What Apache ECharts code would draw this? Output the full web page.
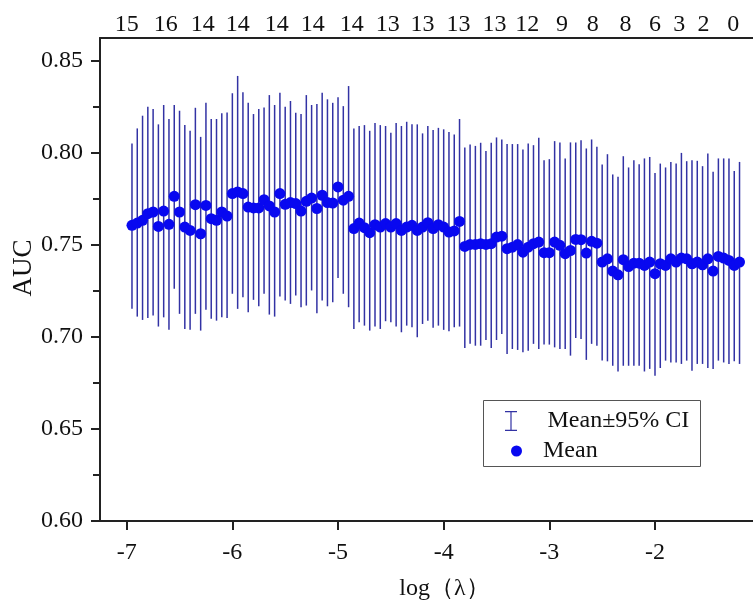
<!DOCTYPE html>
<html>
<head>
<meta charset="utf-8">
<script src="https://cdn.jsdelivr.net/npm/echarts@6/dist/echarts.min.js"></script>
<style>
html,body{margin:0;padding:0;background:#fff;}
#main{width:753px;height:601px;}
</style>
</head>
<body>
<div id="main"></div>
<script>
// log(lambda) positions of the 116 evaluated lambdas
var logLambda = [
-6.95,-6.9,-6.85,-6.8,-6.75,-6.7,-6.65,-6.6,-6.55,-6.5,-6.45,-6.4,-6.35,-6.3,-6.25,-6.2,-6.15,-6.1,-6.05,-6,
-5.95,-5.9,-5.85,-5.8,-5.75,-5.7,-5.65,-5.6,-5.55,-5.5,-5.45,-5.4,-5.35,-5.3,-5.25,-5.2,-5.15,-5.1,-5.05,-5,
-4.95,-4.9,-4.85,-4.8,-4.75,-4.7,-4.65,-4.6,-4.55,-4.5,-4.45,-4.4,-4.35,-4.3,-4.25,-4.2,-4.15,-4.1,-4.05,-4,
-3.95,-3.9,-3.85,-3.8,-3.75,-3.7,-3.65,-3.6,-3.55,-3.5,-3.45,-3.4,-3.35,-3.3,-3.25,-3.2,-3.15,-3.1,-3.05,-3,
-2.95,-2.9,-2.85,-2.8,-2.75,-2.7,-2.65,-2.6,-2.55,-2.5,-2.45,-2.4,-2.35,-2.3,-2.25,-2.2,-2.15,-2.1,-2.05,-2,
-1.95,-1.9,-1.85,-1.8,-1.75,-1.7,-1.65,-1.6,-1.55,-1.5,-1.45,-1.4,-1.35,-1.3,-1.25,-1.2
];
var meanAUC = [
0.7606,0.7618,0.7633,0.7669,0.7678,0.7600,0.7683,0.7611,0.7763,0.7678,
0.7596,0.7578,0.7718,0.7560,0.7714,0.7642,0.7633,0.7678,0.7656,0.7778,
0.7787,0.7778,0.7705,0.7700,0.7700,0.7745,0.7711,0.7678,0.7778,0.7720,
0.7729,0.7724,0.7683,0.7736,0.7754,0.7697,0.7769,0.7729,0.7727,0.7814,
0.7742,0.7763,0.7588,0.7618,0.7593,0.7566,0.7609,0.7596,0.7615,0.7596,
0.7615,0.7578,0.7596,0.7606,0.7578,0.7596,0.7620,0.7588,0.7609,0.7596,
0.7569,0.7575,0.7627,0.7491,0.7502,0.7502,0.7506,0.7502,0.7506,0.7542,
0.7547,0.7479,0.7487,0.7501,0.7460,0.7487,0.7506,0.7515,0.7457,0.7457,
0.7515,0.7497,0.7452,0.7469,0.7529,0.7528,0.7455,0.7519,0.7509,0.7406,
0.7424,0.7357,0.7337,0.7419,0.7382,0.7400,0.7400,0.7388,0.7406,0.7343,
0.7397,0.7388,0.7424,0.7406,0.7428,0.7424,0.7397,0.7406,0.7391,0.7424,
0.7357,0.7437,0.7428,0.7415,0.7388,0.7406
];
var lowerCI = [
0.7152,0.7110,0.7092,0.7103,0.7116,0.7056,0.7106,0.7038,0.7261,0.7125,
0.7043,0.7038,0.7125,0.7034,0.7147,0.7098,0.7088,0.7106,0.7103,0.7234,
0.7152,0.7215,0.7134,0.7201,0.7166,0.7234,0.7121,0.7110,0.7219,0.7197,
0.7179,0.7225,0.7161,0.7170,0.7252,0.7128,0.7197,0.7166,0.7188,0.7319,
0.7234,0.7161,0.7043,0.7079,0.7061,0.7034,0.7056,0.7043,0.7085,0.7079,
0.7056,0.7025,0.7061,0.7052,0.6998,0.7070,0.7088,0.7049,0.7061,0.7038,
0.7030,0.7052,0.7056,0.6940,0.6962,0.6952,0.6952,0.6983,0.6940,0.6983,
0.7016,0.6907,0.6934,0.6929,0.6916,0.6925,0.6962,0.6934,0.6958,0.6958,
0.6943,0.6934,0.6934,0.6898,0.6994,0.6989,0.6875,0.6962,0.6952,0.6871,
0.6867,0.6843,0.6812,0.6843,0.6843,0.6843,0.6843,0.6812,0.6826,0.6789,
0.6831,0.6871,0.6861,0.6861,0.6853,0.6871,0.6816,0.6853,0.6853,0.6831,
0.6826,0.6871,0.6861,0.6853,0.6867,0.6853
];
var upperCI = [
0.8050,0.8132,0.8201,0.8250,0.8237,0.8154,0.8259,0.8183,0.8259,0.8228,
0.8150,0.8119,0.8244,0.8086,0.8271,0.8183,0.8183,0.8214,0.8219,0.8323,
0.8417,0.8328,0.8271,0.8210,0.8237,0.8246,0.8313,0.8259,0.8326,0.8250,
0.8281,0.8217,0.8210,0.8313,0.8259,0.8264,0.8326,0.8290,0.8271,0.8301,
0.8253,0.8362,0.8132,0.8145,0.8150,0.8119,0.8162,0.8150,0.8145,0.8108,
0.8162,0.8145,0.8168,0.8155,0.8154,0.8105,0.8145,0.8123,0.8135,0.8127,
0.8113,0.8099,0.8183,0.8029,0.8045,0.8037,0.8054,0.8010,0.8054,0.8083,
0.8072,0.8047,0.8047,0.8047,0.8018,0.8050,0.8041,0.8081,0.7959,0.7965,
0.8063,0.8056,0.7969,0.8056,0.8056,0.8068,0.8023,0.8072,0.8032,0.7936,
0.7992,0.7882,0.7869,0.7981,0.7920,0.7959,0.7938,0.7969,0.7977,0.7890,
0.7941,0.7920,0.7950,0.7941,0.7999,0.7954,0.7959,0.7956,0.7927,0.7996,
0.7896,0.7969,0.7969,0.7969,0.7901,0.7950
];
// bottom axis ticks
var xTicks = [-7,-6,-5,-4,-3,-2];
// top axis: number of nonzero coefficients at given log(lambda)
var topPos = [-7.00,-6.63,-6.28,-5.95,-5.58,-5.24,-4.87,-4.53,-4.20,-3.86,-3.52,-3.21,-2.88,-2.59,-2.28,-2.00,-1.77,-1.54,-1.26];
var topCounts = ['15','16','14','14','14','14','14','13','13','13','13','12','9','8','8','6','3','2','0'];
var yTicks = [0.60,0.65,0.70,0.75,0.80,0.85];
var yMinorTicks = [0.625,0.675,0.725,0.775,0.825];

var serif = "'Liberation Serif','Times New Roman',serif";
var axisColor = '#222';
var barColor = '#3232a4';
var dotColor = '#0808f0';
var XMIN = -7.2527, XMAX = -1.0725, YMIN = 0.6, YMAX = 0.8623;

var ciData = logLambda.map(function (x, i) { return [x, lowerCI[i], upperCI[i]]; });
var meanData = logLambda.map(function (x, i) { return [x, meanAUC[i]]; });

var chart = echarts.init(document.getElementById('main'), null, {renderer: 'canvas'});
chart.setOption({
  animation: false,
  backgroundColor: '#fff',
  grid: {left: 100, top: 38, right: 0, bottom: 80, containLabel: false, outerBoundsMode: 'none'},
  xAxis: [{
    type: 'value', min: XMIN, max: XMAX, position: 'bottom',
    name: 'log（λ）', nameLocation: 'middle', nameGap: 56,
    nameTextStyle: {fontFamily: serif, fontSize: 24, color: '#111', padding: [0, 0, 0, 36]},
    axisLine: {show: true, onZero: false, lineStyle: {color: axisColor, width: 2}},
    axisTick: {show: true, inside: false, length: 9, customValues: xTicks, lineStyle: {color: axisColor, width: 2}},
    axisLabel: {show: true, customValues: xTicks, margin: 20, fontFamily: serif, fontSize: 24, color: '#111',
      formatter: function (v) { return String(Math.round(v)); }},
    splitLine: {show: false}
  }, {
    type: 'value', min: XMIN, max: XMAX, position: 'top',
    axisLine: {show: true, onZero: false, lineStyle: {color: axisColor, width: 2}},
    axisTick: {show: false},
    axisLabel: {show: true, customValues: topPos, margin: 1, fontFamily: serif, fontSize: 24, color: '#111',
      formatter: function (v) {
        for (var i = 0; i < topPos.length; i++) { if (Math.abs(topPos[i] - v) < 1e-6) return topCounts[i]; }
        return '';
      }},
    splitLine: {show: false}
  }],
  yAxis: [{
    type: 'value', min: YMIN, max: YMAX, position: 'left',
    name: 'AUC', nameLocation: 'middle', nameGap: 63, nameRotate: 90, nameMoveOverlap: false,
    nameTextStyle: {fontFamily: serif, fontSize: 27, color: '#111', padding: [0, 0, 0, 23]},
    axisLine: {show: true, onZero: false, lineStyle: {color: axisColor, width: 2}},
    axisTick: {show: true, inside: false, length: 9, customValues: yTicks, lineStyle: {color: axisColor, width: 2}},
    axisLabel: {show: true, customValues: yTicks, margin: 17, fontFamily: serif, fontSize: 24, color: '#111',
      formatter: function (v) { return v.toFixed(2); }},
    splitLine: {show: false}
  }, {
    type: 'value', min: YMIN, max: YMAX, position: 'left',
    axisLine: {show: false},
    axisTick: {show: true, inside: false, length: 7, customValues: yMinorTicks, lineStyle: {color: axisColor, width: 2}},
    axisLabel: {show: false},
    splitLine: {show: false}
  }],
  legend: [{
    data: [{name: 'Mean±95% CI', icon: 'path://M0,0h12v1.2h-5.4v17.6h5.4v1.2h-12v-1.2h5.4v-17.6h-5.4z'}],
    left: 505, top: 409, orient: 'vertical', itemWidth: 17, itemHeight: 20, padding: 0,
    textStyle: {fontFamily: serif, fontSize: 24, color: '#111', padding: [0, 0, 0, 23]},
    selectedMode: false
  }, {
    data: [{name: 'Mean', icon: 'circle'}],
    left: 511, top: 439, orient: 'vertical', itemWidth: 11, itemHeight: 11, padding: 0,
    textStyle: {fontFamily: serif, fontSize: 24, color: '#111', padding: [0, 0, 0, 16]},
    selectedMode: false
  }],
  graphic: [{
    type: 'rect', left: 483, top: 400, z: 0,
    shape: {width: 217, height: 66},
    style: {fill: '#fff', stroke: '#555', lineWidth: 1}
  }],
  series: [{
    name: 'Mean±95% CI', type: 'custom', xAxisIndex: 0, yAxisIndex: 0,
    itemStyle: {color: barColor},
    encode: {x: 0, y: [1, 2]},
    data: ciData,
    z: 2,
    renderItem: function (params, api) {
      var p1 = api.coord([api.value(0), api.value(1)]);
      var p2 = api.coord([api.value(0), api.value(2)]);
      return {type: 'line', shape: {x1: p1[0], y1: p1[1], x2: p2[0], y2: p2[1]},
        style: {stroke: barColor, lineWidth: 1.5}};
    }
  }, {
    name: 'Mean', type: 'scatter', xAxisIndex: 0, yAxisIndex: 0,
    symbol: 'circle', symbolSize: 11,
    itemStyle: {color: dotColor, opacity: 1},
    data: meanData,
    z: 3
  }]
});
</script>
</body>
</html>
